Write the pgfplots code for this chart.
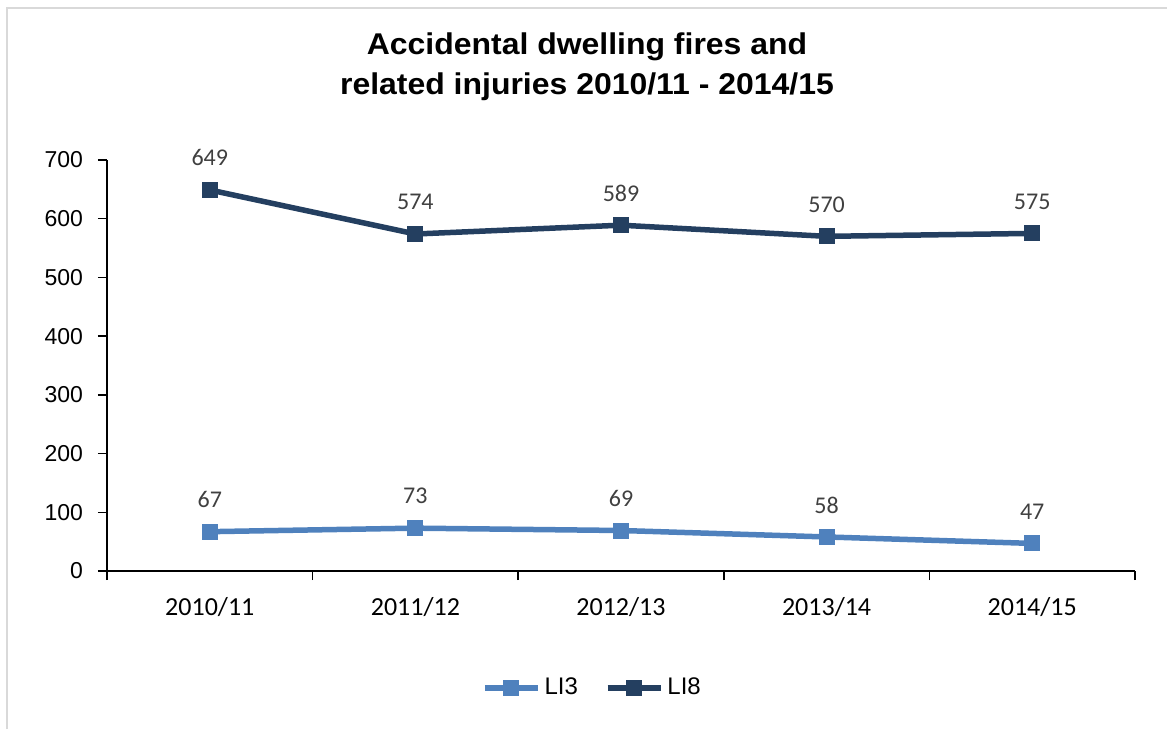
\documentclass[border=0pt]{standalone}
\usepackage{fontspec}
\setmainfont{Carlito}
\newfontfamily\arialfont{Liberation Sans}
\usepackage{pgfplots}
\pgfplotsset{compat=1.18}
\definecolor{liA}{HTML}{4F81BD}
\definecolor{liB}{HTML}{243F60}
\definecolor{lbl}{HTML}{404040}
\begin{document}
\begin{tikzpicture}
\useasboundingbox (0pt,0pt) rectangle (583.5pt,-364.5pt);
\draw[color=black!15, line width=1pt] (3.5pt,-364.5pt) -- (3.5pt,-4pt) -- (583.5pt,-4pt);
\node[font=\arialfont\bfseries\fontsize{15}{20}\selectfont, align=center, xscale=1.065] at (293.5pt,-33.5pt) {Accidental dwelling fires and\\related injuries 2010/11 - 2014/15};
\begin{axis}[
  at={(53.5pt,-285.5pt)}, anchor=south west,
  scale only axis, width=514pt, height=205.5pt,
  xmin=-0.5, xmax=4.5, ymin=0, ymax=700,
  axis lines*=left,
  axis line style={line width=0.75pt, black},
  tick align=outside,
  major tick length=4.5pt,
  tick style={line width=0.75pt, black},
  ytick={0,100,...,700},
  xtick={-0.5,0.5,...,4.5},
  xticklabels={},
  extra x ticks={0,1,2,3,4},
  extra x tick labels={2010/11,2011/12,2012/13,2013/14,2014/15},
  extra x tick style={major tick length=0pt, tick label style={font=\fontsize{13}{15}\selectfont, yshift=-9.5pt}},
  /pgf/number format/assume math mode=true,
  yticklabel style={font=\arialfont\fontsize{11.5}{14}\selectfont, xshift=-4pt},
  legend style={at={(0.4732,-0.2847)}, anchor=center, draw=none, fill=none,
    font=\arialfont\fontsize{12}{14}\selectfont, legend columns=2,
    /tikz/every even column/.append style={column sep=11.5pt}},
  legend image code/.code={\draw[mark repeat=2,mark phase=2,#1] plot coordinates {(0pt,0pt) (13.25pt,0pt) (26.5pt,0pt)};},
  nodes near coords,
  every node near coord/.append style={font=\fontsize{12}{14}\selectfont, text=lbl, anchor=center, yshift=16pt},
  clip=false,
]
\addplot[color=liA, line width=2.75pt, mark=square*, mark size=3.75pt, mark options={line width=0.5pt}]
  coordinates {(0,67) (1,73) (2,69) (3,58) (4,47)};
\addlegendentry{LI3}
\addplot[color=liB, line width=2.75pt, mark=square*, mark size=3.75pt, mark options={line width=0.5pt}]
  coordinates {(0,649) (1,574) (2,589) (3,570) (4,575)};
\addlegendentry{LI8}
\end{axis}
\end{tikzpicture}
\end{document}
